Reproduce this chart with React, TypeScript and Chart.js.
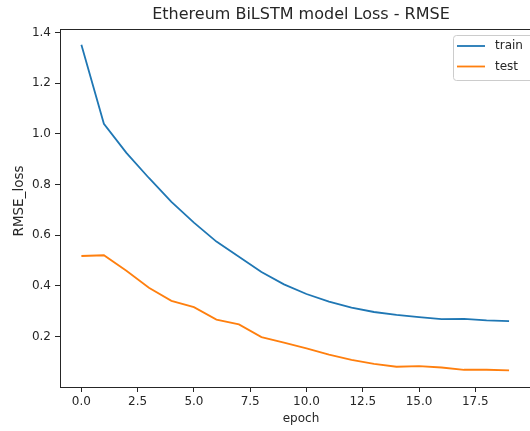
import React, { useEffect, useRef } from "react";
import { Chart, registerables } from "chart.js";

Chart.register(...registerables);

const epochs = [0, 1, 2, 3, 4, 5, 6, 7, 8, 9, 10, 11, 12, 13, 14, 15, 16, 17, 18, 19];
const trainLoss = [1.352, 1.04, 0.925, 0.826, 0.732, 0.65, 0.575, 0.515, 0.455, 0.406, 0.368, 0.338, 0.314, 0.297, 0.286, 0.277, 0.269, 0.27, 0.264, 0.261];
const testLoss = [0.518, 0.521, 0.46, 0.393, 0.341, 0.316, 0.267, 0.248, 0.198, 0.176, 0.153, 0.129, 0.108, 0.092, 0.081, 0.083, 0.078, 0.069, 0.069, 0.067];
const xTicks = [0, 2.5, 5, 7.5, 10, 12.5, 15, 17.5];
const yTicks = [0.2, 0.4, 0.6, 0.8, 1.0, 1.2, 1.4];
const seriesLabels = ["train", "test"];
const seriesColors = ["#1f77b4", "#ff7f0e"];
const chartTitle = "Ethereum BiLSTM model Loss - RMSE";
const xAxisLabel = "epoch";
const yAxisLabel = "RMSE_loss";

const FONT = "'DejaVu Sans', sans-serif";
const INK = "#262626";

export default function App() {
  const ref = useRef<HTMLCanvasElement | null>(null);

  useEffect(() => {
    const canvas = ref.current;
    if (!canvas) return;
    const series = [trainLoss, testLoss];

    const framePlugin = {
      id: "frame",
      afterDraw(chart: any) {
        const { ctx, chartArea } = chart;
        const xs = chart.scales.x;
        const axesRight = xs.getPixelForValue(20.46);
        const axesCenter = (chartArea.left + axesRight) / 2;
        ctx.save();
        ctx.strokeStyle = INK;
        ctx.lineWidth = 1;
        ctx.strokeRect(
          Math.round(chartArea.left) + 0.5,
          Math.round(chartArea.top) + 0.5,
          Math.round(axesRight - chartArea.left),
          Math.round(chartArea.bottom - chartArea.top)
        );
        ctx.fillStyle = INK;
        ctx.textAlign = "center";
        ctx.textBaseline = "middle";
        // title
        ctx.font = `16px ${FONT}`;
        ctx.fillText(chartTitle, axesCenter, 15);
        // x axis label
        ctx.font = `12px ${FONT}`;
        ctx.fillText(xAxisLabel, axesCenter, 419);
        // y axis label
        ctx.save();
        ctx.translate(19, (chartArea.top + chartArea.bottom) / 2 - 7);
        ctx.rotate(-Math.PI / 2);
        ctx.font = `13.5px ${FONT}`;
        ctx.fillText(yAxisLabel, 0, 0);
        ctx.restore();
        // legend (upper right)
        const lx = Math.round(xs.getPixelForValue(19.95) - 77);
        const ly = Math.round(chartArea.top + 6);
        const lw = 90;
        const lh = 45;
        ctx.beginPath();
        ctx.roundRect(lx + 0.5, ly + 0.5, lw, lh, 3);
        ctx.fillStyle = "rgba(255,255,255,0.85)";
        ctx.fill();
        ctx.strokeStyle = "#cccccc";
        ctx.lineWidth = 1;
        ctx.stroke();
        chart.data.datasets.forEach((ds: any, i: number) => {
          const yy = ly + 11 + i * 20.5;
          ctx.beginPath();
          ctx.strokeStyle = ds.borderColor;
          ctx.lineWidth = 1.8;
          ctx.moveTo(lx + 4, yy);
          ctx.lineTo(lx + 32, yy);
          ctx.stroke();
          ctx.fillStyle = INK;
          ctx.font = `12px ${FONT}`;
          ctx.textBaseline = "middle";
          ctx.textAlign = "left";
          ctx.fillText(ds.label, lx + 42, yy);
        });
        ctx.restore();
      },
    };

    const chart = new Chart(canvas, {
      type: "line",
      data: {
        datasets: seriesLabels.map((label, i) => ({
          label,
          data: epochs.map((e, j) => ({ x: e, y: series[i][j] })),
          borderColor: seriesColors[i],
          backgroundColor: seriesColors[i],
          borderWidth: 1.8,
          pointRadius: 0,
          tension: 0,
          fill: false,
        })),
      },
      options: {
        responsive: false,
        animation: false,
        devicePixelRatio: 1,
        layout: { padding: { left: 0, right: 0, top: 29, bottom: 0 } },
        plugins: {
          legend: { display: false },
          tooltip: { enabled: false },
          title: { display: false },
        },
        scales: {
          x: {
            type: "linear",
            min: -0.95,
            max: 19.93,
            afterFit(scale: any) {
              scale.height = 44;
            },
            afterBuildTicks(scale: any) {
              scale.ticks = xTicks.map((v) => ({ value: v }));
            },
            ticks: {
              color: INK,
              font: { family: FONT, size: 12 },
              padding: 3,
              maxRotation: 0,
              autoSkip: false,
              callback: (v: any) => Number(v).toFixed(1),
            },
            grid: { drawOnChartArea: false, drawTicks: true, tickLength: 5, color: INK },
            border: { display: true, color: INK, width: 1 },
          },
          y: {
            type: "linear",
            min: 0.001,
            max: 1.414,
            afterFit(scale: any) {
              scale.width = 60;
            },
            afterBuildTicks(scale: any) {
              scale.ticks = yTicks.map((v) => ({ value: v }));
            },
            ticks: {
              color: INK,
              font: { family: FONT, size: 12 },
              padding: 4,
              autoSkip: false,
              callback: (v: any) => Number(v).toFixed(1),
            },
            grid: { drawOnChartArea: false, drawTicks: true, tickLength: 5, color: INK },
            border: { display: true, color: INK, width: 1 },
          },
        },
      },
      plugins: [framePlugin],
    } as any);

    return () => chart.destroy();
  }, []);

  return (
    <canvas
      ref={ref}
      width={530}
      height={431}
      style={{ display: "block", position: "fixed", left: 0, top: 0, background: "#fff" }}
    />
  );
}
